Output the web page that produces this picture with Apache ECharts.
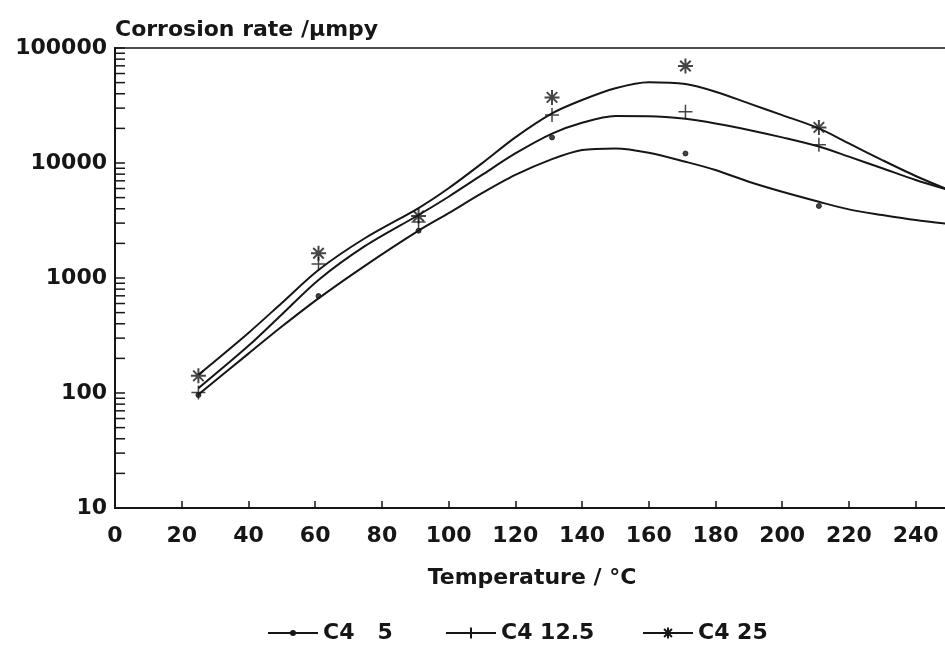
<!DOCTYPE html>
<html lang="en">
<head>
    <meta charset="UTF-8">
    <title>Corrosion rate</title>
    <script src="https://cdn.jsdelivr.net/npm/echarts@6/dist/echarts.min.js"></script>
    <style>
        *{
            margin: 0;
            padding: 0;
        }
        body{
            background-color: #fff;
            overflow: hidden;
        }
    </style>
</head>
<body>
<div id="main" style="width:945px;height:659px;"></div>

<script>
    // measured points
    var temps = [25, 61, 91, 131, 171, 211];
    var rate5 = [96, 697, 2578, 16700, 12100, 4230];
    var rate12 = [101, 1324, 3070, 26100, 27900, 14400];
    var rate25 = [141, 1641, 3460, 37200, 69700, 20400];

    // fitted curves
    var fitT = [25, 40, 50, 61, 75, 91, 100, 110, 120, 131, 140, 150, 160, 171, 180, 190, 200, 211, 220, 230, 240, 250];
    var fit5 = [97, 220, 378, 665, 1282, 2580, 3660, 5460, 7870, 10800, 12970, 13400, 12300, 10250, 8690, 6870, 5620, 4600, 3950, 3530, 3190, 2950];
    var fit12 = [110, 257, 482, 962, 1900, 3530, 5090, 7870, 12100, 18000, 22400, 25600, 25500, 24200, 22100, 19400, 16700, 13900, 11350, 9000, 7110, 5820];
    var fit25 = [144, 333, 607, 1175, 2228, 4060, 6030, 9930, 16700, 27000, 35300, 44700, 50400, 48600, 41700, 33000, 26100, 20000, 14800, 10600, 7710, 5820];

    var names = ['C4   5', 'C4 12.5', 'C4 25'];
    var yTicks = [10, 100, 1000, 10000, 100000];

    var ink = '#161616';
    var font = 'DejaVu Sans';
    var plusPath = 'path://M5,0V10M0,5H10';
    var starPath = 'path://M5,0V10M0,5H10M1.5,1.5L8.5,8.5M8.5,1.5L1.5,8.5';

    function pairs(xs, ys) {
        return xs.map(function (x, i) { return [x, ys[i]]; });
    }

    function curve(name, ys, symbol) {
        return {
            name: name,
            type: 'line',
            data: pairs(fitT, ys),
            smooth: 0.3,
            showSymbol: false,
            symbol: symbol,
            lineStyle: {color: ink, width: 2},
            itemStyle: {color: ink, borderColor: ink, borderWidth: 1.5},
            silent: true,
            z: 2
        };
    }

    function marks(name, ys, symbol, size, bw) {
        return {
            name: name,
            type: 'scatter',
            data: pairs(temps, ys),
            symbol: symbol,
            symbolSize: size,
            itemStyle: {color: ink, borderColor: ink, borderWidth: bw},
            z: 3
        };
    }

    function legendAt(left, name, h) {
        return {
            left: left,
            top: 617,
            data: [name],
            itemWidth: 50,
            itemHeight: h,
            itemGap: 0,
            textStyle: {fontFamily: font, fontWeight: 'bold', fontSize: 22, color: ink}
        };
    }

    var labelStyle = {fontFamily: font, fontWeight: 'bold', fontSize: 22, color: ink};

    var myChart = echarts.init(document.getElementById('main'));
    var option = {
        backgroundColor: '#fff',
        animation: false,
        grid: {
            left: 115, top: 48, right: -4, bottom: 151,
            outerBoundsMode: 'none',
            show: true, borderColor: ink, borderWidth: 1.5
        },
        legend: [
            legendAt(262, names[0], 5),
            legendAt(440, names[1], 14),
            legendAt(637, names[2], 14)
        ],
        xAxis: {
            type: 'value',
            min: 0,
            max: 250,
            interval: 20,
            name: 'Temperature / °C',
            nameLocation: 'middle',
            nameGap: 59,
            nameTextStyle: labelStyle,
            axisLine: {lineStyle: {color: ink, width: 2}},
            axisTick: {inside: true, length: 7, lineStyle: {color: ink, width: 1.5}},
            axisLabel: {
                margin: 17,
                fontFamily: font, fontWeight: 'bold', fontSize: 22, color: ink,
                formatter: function (v) { return v === 250 ? '' : String(v); }
            },
            splitLine: {show: false}
        },
        yAxis: {
            type: 'log',
            logBase: 10,
            min: yTicks[0],
            max: yTicks[yTicks.length - 1],
            name: 'Corrosion rate /µmpy',
            nameLocation: 'end',
            nameGap: 7,
            nameTextStyle: {fontFamily: font, fontWeight: 'bold', fontSize: 22, color: ink, align: 'left'},
            axisLine: {show: true, lineStyle: {color: ink, width: 2}},
            axisTick: {inside: true, length: 10, lineStyle: {color: ink, width: 1.5}},
            axisLabel: {
                margin: 8,
                fontFamily: font, fontWeight: 'bold', fontSize: 22, color: ink,
                formatter: function (v) { return String(Math.round(v)); }
            },
            splitLine: {show: false}
        },
        series: [
            curve(names[0], fit5, 'circle'),
            curve(names[1], fit12, plusPath),
            curve(names[2], fit25, starPath),
            marks('pts5', rate5, 'circle', 5, 1),
            marks('pts12', rate12, plusPath, 14, 1.5),
            marks('pts25', rate25, starPath, 15, 2)
        ]
    };
    myChart.setOption(option);

    // log minor ticks 2..9 in each decade
    var x0 = myChart.convertToPixel({xAxisIndex: 0}, 0);
    var minor = [];
    for (var d = 0; d < yTicks.length - 1; d++) {
        for (var m = 2; m <= 9; m++) {
            var y = myChart.convertToPixel({yAxisIndex: 0}, yTicks[d] * m);
            minor.push({
                type: 'line',
                shape: {x1: x0, y1: y, x2: x0 + 10, y2: y},
                style: {stroke: ink, lineWidth: 1.5},
                silent: true
            });
        }
    }
    myChart.setOption({graphic: minor});
</script>
</body>
</html>
